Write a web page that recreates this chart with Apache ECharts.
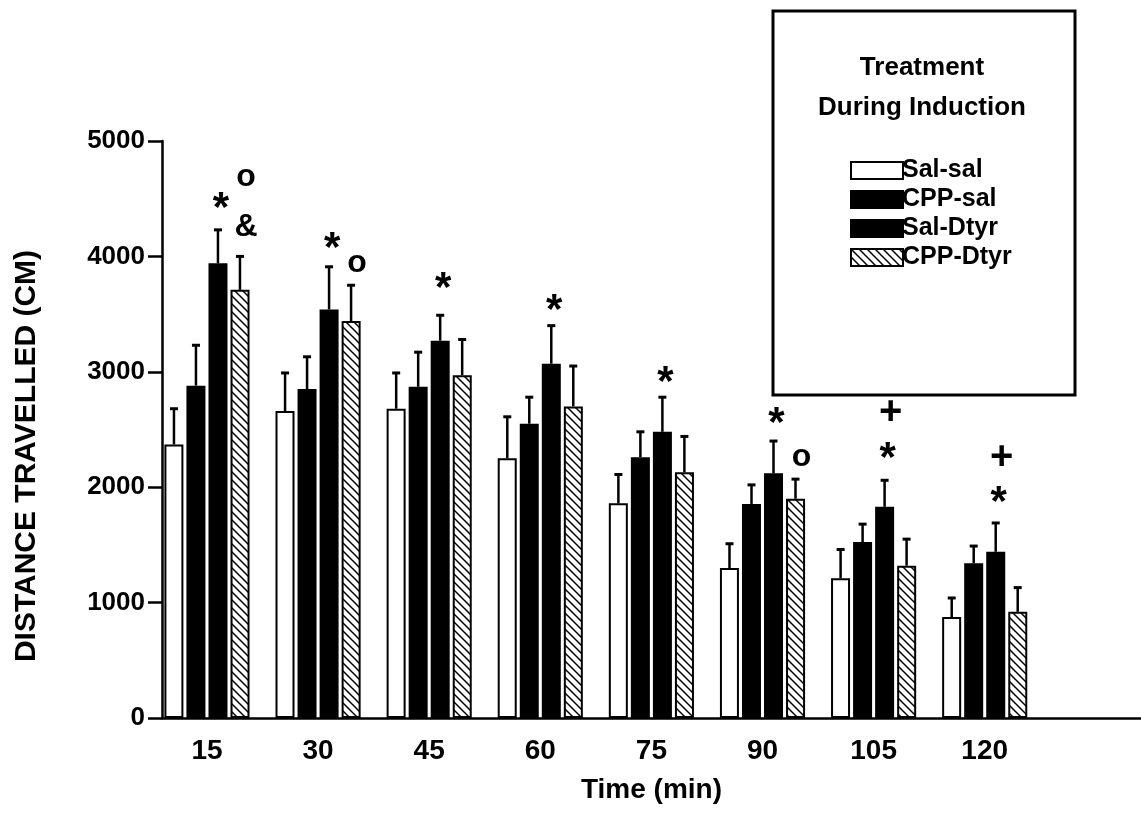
<!DOCTYPE html>
<html>
<head>
<meta charset="utf-8">
<script src="https://cdn.jsdelivr.net/npm/echarts@6/dist/echarts.min.js"></script>
<style>
  html, body { margin: 0; padding: 0; background: #fff; }
  #chart { width: 1141px; height: 814px; }
</style>
</head>
<body>
<div id="chart"></div>
<script>
// data
var times = [15, 30, 45, 60, 75, 90, 105, 120];
var seriesNames = ['Sal-sal', 'CPP-sal', 'Sal-Dtyr', 'CPP-Dtyr'];
var salSal = [2370, 2660, 2680, 2250, 1860, 1300, 1210, 875];
var salSalErr = [310, 330, 310, 360, 250, 210, 250, 165];
var cppSal = [2880, 2850, 2870, 2550, 2260, 1855, 1525, 1340];
var cppSalErr = [350, 280, 300, 230, 220, 165, 155, 150];
var salDtyr = [3940, 3540, 3270, 3070, 2480, 2120, 1830, 1440];
var salDtyrErr = [290, 370, 220, 330, 300, 280, 230, 250];
var cppDtyr = [3710, 3440, 2970, 2700, 2130, 1900, 1320, 920];
var cppDtyrErr = [290, 310, 310, 350, 310, 170, 230, 210];
var yTicks = [0, 1000, 2000, 3000, 4000, 5000];
// significance marks: [time, bar index, height, mark]
var marks = [
    [15, 2, 4506, '*'], [15, 3, 4688, 'o'], [15, 3, 4255, '&'],
    [30, 2, 4160, '*'], [30, 3, 3943, 'o'],
    [45, 2, 3813, '*'],
    [60, 2, 3622, '*'],
    [75, 2, 2998, '*'],
    [90, 2, 2643, '*'], [90, 3, 2262, 'o'],
    [105, 2, 2340, '*'], [105, 2, 2660, '+'],
    [120, 2, 1958, '*'], [120, 2, 2270, '+']
];

var means = [salSal, cppSal, salDtyr, cppDtyr];
var errs = [salSalErr, cppSalErr, salDtyrErr, cppDtyrErr];

var FONT = '"Liberation Sans", Arial, sans-serif';
var BAR_W = 19;
var STEP = 22; // bar width + gap in px

// hatch pattern for CPP-Dtyr
function makeHatch() {
    var s = 8;
    var c = document.createElement('canvas');
    c.width = s; c.height = s;
    var ctx = c.getContext('2d');
    ctx.fillStyle = '#fff';
    ctx.fillRect(0, 0, s, s);
    ctx.strokeStyle = '#000';
    ctx.lineWidth = 1.5;
    ctx.beginPath();
    ctx.moveTo(-1, -1); ctx.lineTo(s + 1, s + 1);
    ctx.moveTo(-1, s - 1); ctx.lineTo(1, s + 1);
    ctx.moveTo(s - 1, -1); ctx.lineTo(s + 1, 1);
    ctx.stroke();
    return c;
}
var hatch = { image: makeHatch(), repeat: 'repeat' };
var fills = ['#fff', '#000', '#000', hatch];

var chart = echarts.init(document.getElementById('chart'));

var series = [];
seriesNames.forEach(function (name, i) {
    series.push({
        name: name,
        type: 'bar',
        barWidth: BAR_W,
        barGap: '16%',
        itemStyle: { color: fills[i], borderColor: '#000', borderWidth: 2 },
        data: times.map(function (t, k) { return [t, means[i][k]]; }),
        z: 2
    });
});

// error bars (upper only)
seriesNames.forEach(function (name, i) {
    series.push({
        type: 'custom',
        silent: true,
        z: 3,
        data: times.map(function (t, k) { return [t, means[i][k], means[i][k] + errs[i][k]]; }),
        renderItem: function (params, api) {
            var base = api.coord([api.value(0), api.value(1)]);
            var top = api.coord([api.value(0), api.value(2)]);
            var x = base[0] + (i - 1.5) * STEP;
            return {
                type: 'group',
                children: [
                    { type: 'line', shape: { x1: x, y1: base[1], x2: x, y2: top[1] }, style: { stroke: '#000', lineWidth: 2.5 } },
                    { type: 'line', shape: { x1: x - 4, y1: top[1], x2: x + 4, y2: top[1] }, style: { stroke: '#000', lineWidth: 3 } }
                ]
            };
        }
    });
});

// significance marks
series.push({
    type: 'custom',
    silent: true,
    z: 4,
    data: marks,
    renderItem: function (params, api) {
        var p = api.coord([api.value(0), api.value(2)]);
        var txt = marks[params.dataIndex][3];
        var x = p[0] + (api.value(1) - 1.5) * STEP + (txt === '*' ? 3 : 6);
        var size = txt === '*' ? 42 : (txt === '+' ? 40 : 32);
        return {
            type: 'text',
            x: x,
            y: p[1] + (txt === '*' ? 11 : (txt === '+' ? 2 : 0)),
            style: {
                text: txt,
                fill: '#000',
                font: 'bold ' + size + 'px ' + FONT,
                align: 'center',
                verticalAlign: 'middle'
            }
        };
    }
});

var option = {
    backgroundColor: '#fff',
    animation: false,
    grid: { left: 162, right: 0, top: 141, bottom: 96 },
    xAxis: {
        type: 'value',
        min: 8.93,
        max: 141.1,
        name: 'Time (min)',
        nameLocation: 'middle',
        nameGap: 58,
        nameTextStyle: { fontFamily: FONT, fontWeight: 'bold', fontSize: 28, color: '#000', verticalAlign: 'top' },
        splitLine: { show: false },
        axisLine: { lineStyle: { color: '#000', width: 2.5 } },
        axisTick: { show: false },
        axisLabel: {
            customValues: times,
            margin: 19,
            fontFamily: FONT,
            fontWeight: 'bold',
            fontSize: 28,
            color: '#000'
        }
    },
    yAxis: {
        type: 'value',
        min: 0,
        max: 5000,
        interval: 1000,
        splitLine: { show: false },
        axisLine: { show: true, lineStyle: { color: '#000', width: 2.5 } },
        axisTick: { show: true, length: 14, lineStyle: { color: '#000', width: 2.5 } },
        axisLabel: {
            customValues: yTicks,
            formatter: function (v) { return String(v); },
            margin: 17,
            fontFamily: FONT,
            fontWeight: 'bold',
            fontSize: 26,
            color: '#000'
        }
    },
    title: {
        text: 'Treatment\nDuring Induction',
        left: 917,
        top: 43,
        textAlign: 'center',
        textStyle: { fontFamily: FONT, fontWeight: 'bold', fontSize: 26, lineHeight: 40, color: '#000' }
    },
    legend: {
        data: seriesNames,
        orient: 'vertical',
        left: 845,
        top: 153,
        itemWidth: 52,
        itemHeight: 17,
        itemGap: 4,
        icon: 'rect',
        selectedMode: false,
        textStyle: { fontFamily: FONT, fontWeight: 'bold', fontSize: 25, color: '#000', padding: [0, 0, 0, -6] }
    },
    graphic: [{
        type: 'rect',
        shape: { x: 773, y: 11, width: 302, height: 384 },
        style: { fill: 'none', stroke: '#000', lineWidth: 3 },
        z: 10
    }, {
        type: 'text',
        x: 27,
        y: 456,
        rotation: Math.PI / 2,
        style: {
            text: 'DISTANCE TRAVELLED (CM)',
            fill: '#000',
            font: 'bold 30px ' + FONT,
            align: 'center',
            verticalAlign: 'middle'
        }
    }],
    series: series
};

chart.setOption(option);
</script>
</body>
</html>
